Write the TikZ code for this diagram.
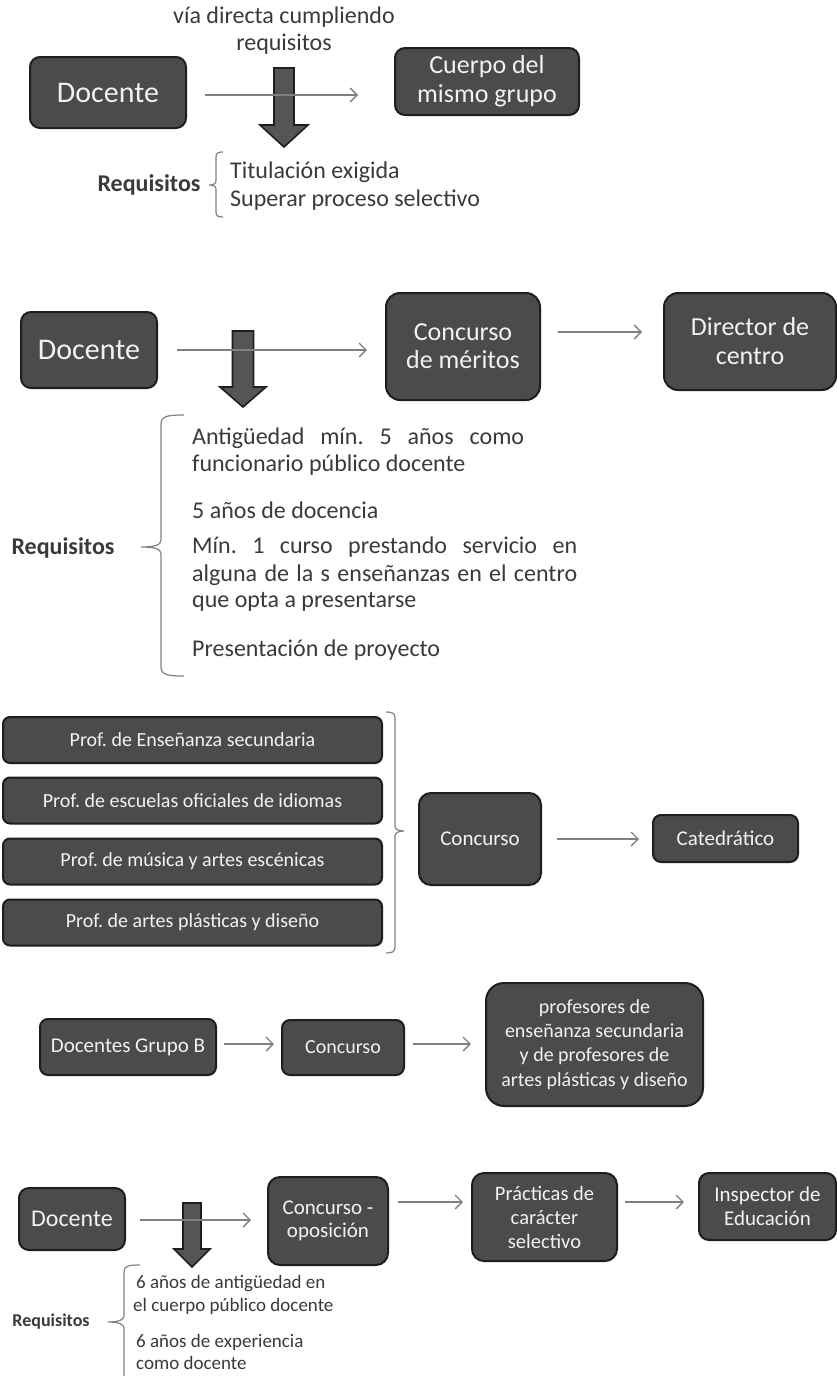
\documentclass[tikz,border=0pt]{standalone}
\usepackage{fontspec}
\setmainfont{Carlito}
\usetikzlibrary{arrows.meta,calc}
\definecolor{boxfill}{HTML}{4B4B4B}
\definecolor{boxline}{HTML}{1E1E1E}
\definecolor{conncol}{HTML}{808080}
\definecolor{txt}{HTML}{3A3A3A}
\definecolor{arrowfill}{HTML}{555555}
\newcommand\fsz[2]{\fontsize{#1pt}{#2pt}\selectfont}

\begin{document}
\frenchspacing
\begin{tikzpicture}[x=1pt,y=-1pt,
  box/.style={draw=boxline, fill=boxfill, line width=2pt, rounded corners=10pt,
    text=white!95!black, align=center, inner sep=0pt},
  conn/.style={draw=conncol, line width=1.3pt, -{Straight Barb[length=7pt,width=14pt]}},
  bigarrow/.style={draw=boxline, fill=arrowfill, line width=1.6pt, line join=miter},
  curl/.style={draw=conncol, line width=1.2pt},
  label/.style={text=txt, inner sep=0pt, align=left},
  ]
\useasboundingbox (0,0) rectangle (837,1376);
\fill[white] (0,0) rectangle (837,1376);

% ---------- Block 1: acceso al cuerpo del mismo grupo ----------
\node[label, align=center, font=\fsz{24}{27}] (via) at (284,31) {vía directa cumpliendo\\requisitos};
\node[box, minimum width=156pt, minimum height=71pt, font=\fsz{30}{36}] (d1) at (108,92.5) {Docente};
\node[box, minimum width=184pt, minimum height=67pt, font=\fsz{26}{29}] (c1) at (487,81.5) {Cuerpo del\\mismo grupo};
\draw[bigarrow] (274,68) -- (294,68) -- (294,125) -- (308,125) -- (284,147) -- (260,125) -- (274,125) -- cycle;
\draw[conn] ($(d1.east)+(18,2.5)$) -- ($(d1.east -| c1.west)+(-36,2.5)$);

\node[label, font=\bfseries\fsz{24}{28}] (rq1) at (149,185) {Requisitos};
\draw[curl] (223,152) .. controls (218,152) and (216,153) .. (216,157) -- (216,181)
  .. controls (216,184) and (213,185) .. (209,185) .. controls (213,185) and (216,186) .. (216,189)
  -- (216,212) .. controls (216,216) and (218,217) .. (223,217);
\node[label, anchor=west, font=\fsz{24}{28}] (t1) at (230,172) {Titulación exigida};
\node[label, anchor=west, font=\fsz{24}{28}] (t2) at (230,200) {Superar proceso selectivo};

% ---------- Block 2: dirección de centro ----------
\node[box, minimum width=136pt, minimum height=76pt, font=\fsz{30}{36}] (d2) at (89,350) {Docente};
\node[box, rounded corners=14pt, minimum width=154pt, minimum height=107pt, font=\fsz{26}{28}] (c2) at (463,346.5) {Concurso\\de méritos};
\node[box, rounded corners=14pt, minimum width=172pt, minimum height=97pt, font=\fsz{26}{29}] (dir) at (750,341.5) {Director de\\centro};
\draw[bigarrow] (232.5,331) -- (253.5,331) -- (253.5,387) -- (266,387) -- (243,407) -- (220,387) -- (232.5,387) -- cycle;
\draw[conn] ($(d2.east)+(19,0)$) -- ($(d2.east -| c2.west)+(-18,0)$);
\draw[conn] ($(c2.east)+(17,-14.5)$) -- ($(c2.east -| dir.west)+(-21,-14.5)$);

\node[label, font=\bfseries\fsz{24}{28}] (rq2) at (63,548) {Requisitos};
\draw[curl] (184,415) .. controls (168,415) and (161,416) .. (161,424) -- (161,540)
  .. controls (161,545) and (155,547) .. (141,547) .. controls (155,547) and (161,549) .. (161,554)
  -- (161,667) .. controls (161,675) and (168,676) .. (184,676);
\node[label, anchor=west, font=\fsz{24}{28}] (r2a) at (192,438) {\makebox[332pt][s]{Antigüedad mín. 5 años como}};
\node[label, anchor=west, font=\fsz{24}{28}] (r2b) at (192,465) {funcionario público docente};
\node[label, anchor=west, font=\fsz{24}{28}] (r2c) at (192,510) {5 años de docencia};
\node[label, anchor=west, font=\fsz{24}{28}] (r2d) at (192,547) {\makebox[385pt][s]{Mín. 1 curso prestando servicio en}};
\node[label, anchor=west, font=\fsz{24}{28}] (r2e) at (192,575) {\makebox[385pt][s]{alguna de la s enseñanzas en el centro}};
\node[label, anchor=west, font=\fsz{24}{28}] (r2f) at (192,602) {que opta a presentarse};
\node[label, anchor=west, font=\fsz{24}{28}] (r2g) at (192,650) {Presentación de proyecto};

% ---------- Block 3: catedráticos ----------
\node[box, rounded corners=7pt, minimum width=379pt, minimum height=46pt, font=\fsz{20}{24}] (p1) at (192.5,740) {Prof. de Enseñanza secundaria};
\node[box, rounded corners=7pt, minimum width=379pt, minimum height=46pt, font=\fsz{20}{24}] (p2) at (192.5,800.5) {Prof. de escuelas oficiales de idiomas};
\node[box, rounded corners=7pt, minimum width=379pt, minimum height=46pt, font=\fsz{20}{24}] (p3) at (192.5,861.5) {Prof. de música y artes escénicas};
\node[box, rounded corners=7pt, minimum width=379pt, minimum height=46pt, font=\fsz{20}{24}] (p4) at (192.5,922.5) {Prof. de artes plásticas y diseño};
\draw[curl] (386,712) .. controls (392,712) and (395,713) .. (395,718) -- (395,826)
  .. controls (395,829) and (398,831) .. (404,831) .. controls (398,831) and (395,833) .. (395,836)
  -- (395,947) .. controls (395,952) and (392,953) .. (386,953);
\node[box, rounded corners=12pt, minimum width=122pt, minimum height=92pt, font=\fsz{21}{25}] (cc3) at (480,839) {Concurso};
\node[box, rounded corners=8pt, minimum width=145pt, minimum height=47pt, font=\fsz{21}{25}] (cat) at (725.5,838.5) {Catedrático};
\draw[conn] ($(cc3.east)+(15,0)$) -- ($(cc3.east -| cat.west)+(-13,0)$);

% ---------- Block 4: docentes del grupo B ----------
\node[box, rounded corners=8pt, minimum width=176pt, minimum height=56pt, font=\fsz{21}{25}] (g4) at (128,1047) {Docentes Grupo B};
\node[box, rounded corners=8pt, minimum width=122pt, minimum height=55pt, font=\fsz{20}{24}] (k4) at (343,1047.5) {Concurso};
\node[box, rounded corners=18pt, minimum width=217pt, minimum height=123pt, font=\fsz{20}{24.3}] (big4) at (594.5,1044.5) {profesores de\\enseñanza secundaria\\y de profesores de\\artes plásticas y diseño};
\draw[conn] ($(g4.east)+(7,-3)$) -- ($(g4.east -| k4.west)+(-7,-3)$);
\draw[conn] ($(k4.east)+(8,-3.5)$) -- ($(k4.east -| big4.west)+(-14,-3.5)$);

% ---------- Block 5: inspección educativa ----------
\node[box, rounded corners=10pt, minimum width=106pt, minimum height=62pt, font=\fsz{24}{28}] (d5) at (72,1219) {Docente};
\node[box, rounded corners=12pt, minimum width=120pt, minimum height=88pt, font=\fsz{21}{23}] (co5) at (328,1221) {Concurso -\\oposición};
\node[box, rounded corners=12pt, minimum width=145pt, minimum height=88pt, font=\fsz{20.5}{24}] (pr5) at (544.5,1217) {Prácticas de\\carácter\\selectivo};
\node[box, rounded corners=10pt, minimum width=137pt, minimum height=67pt, font=\fsz{21}{24}] (in5) at (767.5,1206.5) {Inspector de\\Educación};
\draw[bigarrow] (183,1203) -- (201,1203) -- (201,1249) -- (210,1249) -- (192,1267) -- (174,1249) -- (183,1249) -- cycle;
\draw[conn] ($(d5.east)+(14,1)$) -- ($(d5.east -| co5.west)+(-16,1)$);
\draw[conn] ($(co5.east)+(9,-19)$) -- ($(co5.east -| pr5.west)+(-8,-19)$);
\draw[conn] ($(pr5.east)+(7,-15)$) -- ($(pr5.east -| in5.west)+(-14,-15)$);

\node[label, font=\bfseries\fsz{18}{22}] (rq5) at (51,1322) {Requisitos};
\draw[curl] (140,1265) .. controls (128,1265) and (124,1266) .. (124,1272) -- (124,1316)
  .. controls (124,1320) and (118,1322) .. (108,1322) .. controls (118,1322) and (124,1324) .. (124,1328)
  -- (124,1380);
\node[label, anchor=west, font=\fsz{19}{22}] (r5a) at (136,1284) {6 años de antigüedad en};
\node[label, anchor=west, font=\fsz{19}{22}] (r5b) at (133,1306) {el cuerpo público docente};
\node[label, anchor=west, font=\fsz{19}{22}] (r5c) at (136,1342) {6 años de experiencia};
\node[label, anchor=west, font=\fsz{19}{22}] (r5d) at (136,1363) {como docente};
\end{tikzpicture}
\end{document}
